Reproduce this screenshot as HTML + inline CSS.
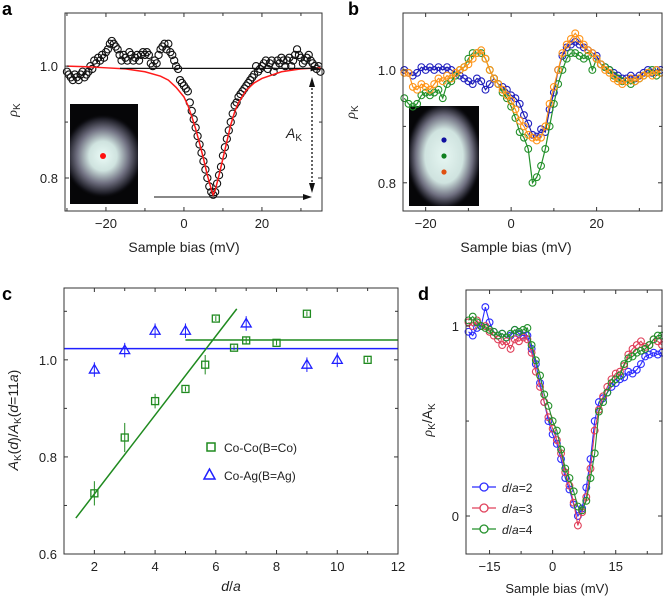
<!DOCTYPE html>
<html><head><meta charset="utf-8">
<style>
body{margin:0;background:#fff;}
svg{display:block;font-family:"Liberation Sans",Arial,sans-serif;}
</style></head>
<body>
<svg id="fig" width="663" height="597" viewBox="0 0 663 597" xmlns="http://www.w3.org/2000/svg">
<defs>
<radialGradient id="glow" cx="50%" cy="50%" r="50%">
<stop offset="0" stop-color="#eafaf6"/><stop offset="0.35" stop-color="#cfe3df"/><stop offset="0.65" stop-color="#6f6f80"/><stop offset="0.9" stop-color="#1a1a22"/><stop offset="1" stop-color="#060608" stop-opacity="0"/>
</radialGradient>
<radialGradient id="glow2" cx="50%" cy="50%" r="50%">
<stop offset="0" stop-color="#e6f6f2"/><stop offset="0.5" stop-color="#cfe3df"/><stop offset="0.75" stop-color="#6f6f80"/><stop offset="0.92" stop-color="#1a1a22"/><stop offset="1" stop-color="#060608" stop-opacity="0"/>
</radialGradient>
<clipPath id="clipA"><rect x="70" y="104" width="68" height="100"/></clipPath>
<clipPath id="clipB"><rect x="409" y="106" width="70" height="100"/></clipPath>
</defs>
<text x="2" y="15" font-size="18" font-weight="bold">a</text>
<text x="348" y="15" font-size="18" font-weight="bold">b</text>
<text x="2" y="300" font-size="18" font-weight="bold">c</text>
<text x="418" y="300" font-size="18" font-weight="bold">d</text>
</svg>
<script>
// ---------- Panel a data ----------
const biasStartA = -30, biasStepA = 0.5;
const rhoA = [0.99,0.985,0.98,0.975,0.985,0.98,0.975,0.985,0.99,0.98,0.985,0.99,1.0,0.995,1.01,1.005,1.015,1.01,1.02,1.015,1.025,1.03,1.04,1.045,1.04,1.035,1.03,1.02,1.01,1.02,1.015,1.01,1.025,1.02,1.01,1.015,1.02,1.01,1.02,1.025,1.02,1.025,1.02,1.005,1.0,1.01,1.005,1.02,1.03,1.035,1.04,1.03,1.04,1.025,1.02,1.01,1.0,0.995,0.975,0.97,0.965,0.96,0.955,0.935,0.92,0.905,0.89,0.875,0.86,0.845,0.83,0.815,0.8,0.785,0.775,0.77,0.775,0.79,0.805,0.82,0.84,0.855,0.87,0.885,0.9,0.915,0.93,0.935,0.945,0.95,0.955,0.96,0.965,0.97,0.975,0.98,0.985,1.0,0.99,0.995,1.0,1.005,1.01,0.995,1.005,1.01,0.99,1.0,1.01,1.005,1.015,1.01,1.0,1.01,1.015,1.0,1.01,1.02,1.03,1.02,1.015,1.005,1.01,1.015,1.02,1.01,1.005,1.0,0.995,1.0,0.99];
const fitX = [-30,-25,-20,-15,-10,-6,-4,-2,0,1,2,3,4,5,6,7,7.5,8,9,10,11,12,13,14,16,18,20,25,30,35];
const fitY = [1.0,0.999,0.997,0.995,0.99,0.982,0.975,0.962,0.945,0.93,0.91,0.888,0.862,0.835,0.805,0.78,0.77,0.778,0.805,0.835,0.865,0.895,0.918,0.935,0.957,0.97,0.978,0.99,0.995,0.997];
const xTicksA = [-20,0,20], yTicksA = [0.8,1.0], yTickLabelsA = ["0.8","1.0"];

// ---------- Panel b data ----------
const biasStartB = -25, biasStepB = 1;
const rhoBlue = [1.0,0.995,0.99,0.995,1.005,1.0,1.005,1.0,1.005,1.0,1.005,1.0,0.995,0.99,0.985,0.98,0.975,0.985,0.98,0.965,0.975,0.985,0.975,0.97,0.965,0.955,0.95,0.94,0.92,0.905,0.885,0.882,0.895,0.89,0.93,0.96,1.0,1.025,1.04,1.045,1.05,1.045,1.04,1.035,1.03,1.025,1.01,1.005,1.0,0.995,0.99,0.985,0.985,0.99,0.985,0.99,0.995,1.0,0.995,1.0,1.0];
const rhoGreen = [0.95,0.94,0.935,0.94,0.955,0.96,0.955,0.96,0.965,0.95,0.975,0.98,0.99,1.0,1.005,1.02,1.03,1.03,1.03,1.02,1.0,0.985,0.975,0.96,0.95,0.935,0.915,0.89,0.88,0.86,0.8,0.81,0.83,0.86,0.9,0.94,0.975,1.0,1.02,1.03,1.03,1.025,1.02,1.025,1.0,1.02,1.01,1.005,1.0,0.99,0.985,0.98,0.98,0.975,0.98,0.985,0.99,0.995,1.0,0.99,0.995];
const rhoOrange = [0.995,0.995,0.97,0.965,0.975,0.97,0.965,0.975,0.985,0.98,0.99,0.985,0.995,1.0,1.005,1.01,1.02,1.03,1.035,1.02,1.0,0.985,0.975,0.965,0.955,0.945,0.93,0.91,0.9,0.885,0.88,0.875,0.88,0.9,0.94,0.97,1.0,1.03,1.045,1.055,1.065,1.055,1.045,1.035,1.03,1.02,1.01,1.0,0.995,0.985,0.98,0.975,0.98,0.985,0.98,0.985,0.99,0.995,0.99,1.0,0.995];
const xTicksB = [-20,0,20], yTicksB = [0.8,1.0], yTickLabelsB = ["0.8","1.0"];

// ---------- Panel c data ----------
const coX = [2,3,4,5,5.65,6,6.6,7,8,9,11];
const coY = [0.725,0.84,0.915,0.94,0.99,1.085,1.025,1.04,1.035,1.095,1.0];
const coErr = [0.025,0.03,0.015,0.005,0.02,0.005,0.005,0.008,0.005,0.005,0.005];
const agX = [2,3,4,5,7,9,10];
const agY = [0.98,1.02,1.06,1.06,1.075,0.99,1.0];
const agErr = [0.015,0.015,0.015,0.015,0.015,0.015,0.015];
const coFitX = [1.39,6.69], coFitY = [0.674,1.105];
const coFlatX = [5,12], coFlatY = [1.041,1.041];
const agFlatX = [1,12], agFlatY = [1.023,1.023];
const xTicksC = [2,4,6,8,10,12], yTicksC = [0.6,0.8,1.0], yTickLabelsC = ["0.6","0.8","1.0"];

// ---------- Panel d data ----------
const biasStartD = -20, biasStepD = 1;
const normBlue = [0.97,0.95,0.99,1.0,1.1,1.02,0.97,0.95,0.96,0.94,0.95,0.98,0.96,0.95,0.95,0.88,0.8,0.7,0.6,0.5,0.43,0.38,0.3,0.2,0.14,0.06,0.0,0.04,0.15,0.3,0.5,0.6,0.62,0.65,0.68,0.7,0.72,0.73,0.76,0.75,0.77,0.8,0.84,0.85,0.86,0.85,0.86];
const normRed = [1.02,1.0,1.03,1.0,1.0,0.97,0.95,0.93,0.9,0.92,0.88,0.93,0.92,0.94,0.93,0.86,0.76,0.68,0.6,0.52,0.46,0.4,0.33,0.23,0.16,0.07,-0.05,0.02,0.1,0.25,0.45,0.56,0.63,0.68,0.72,0.75,0.76,0.79,0.85,0.88,0.9,0.92,0.89,0.9,0.93,0.92,0.9];
const normGreen = [1.03,1.05,1.02,1.0,0.99,0.98,0.97,0.95,0.96,0.94,0.96,0.98,0.97,0.98,0.99,0.9,0.82,0.74,0.64,0.58,0.5,0.45,0.35,0.25,0.2,0.13,0.05,0.03,0.08,0.2,0.33,0.55,0.6,0.65,0.7,0.72,0.74,0.8,0.83,0.84,0.86,0.87,0.88,0.9,0.93,0.95,0.95];
const xTicksD = [-15,0,15], yTicksD = [0,1], yTickLabelsD = ["0","1"];

const NS = "http://www.w3.org/2000/svg";
const svg = document.getElementById("fig");
function mk(tag, attrs, parent){ const e=document.createElementNS(NS,tag); for(const k in attrs) e.setAttribute(k,attrs[k]); (parent||svg).appendChild(e); return e; }
function scale(d0,d1,r0,r1){ return v => r0 + (v-d0)/(d1-d0)*(r1-r0); }

function frame(name, L,T,R,B, sx, sy, xt, yt, ytl, minorX, minorY){
  const g = mk("g",{});
  
  
  const r = mk("rect",{x:L,y:T,width:R-L,height:B-T,fill:"none",stroke:"#333","stroke-width":1},g);
  
  
  const all = xt.map(v=>[v,4]).concat(minorX.map(v=>[v,3]));
  all.forEach(([v,len])=>{
    const x=sx(v);
    mk("line",{x1:x,y1:B,x2:x,y2:B-len,stroke:"#333"},g);
    mk("line",{x1:x,y1:T,x2:x,y2:T+len,stroke:"#333"},g);
  });
  xt.forEach(v=>{
    const t = mk("text",{x:sx(v),y:B+17,"font-size":13,"text-anchor":"middle",fill:"#222"},g);
    
    
    t.textContent = v<0 ? "\u2212"+(-v) : String(v);
  });
  const ally = yt.map(v=>[v,4]).concat(minorY.map(v=>[v,3]));
  ally.forEach(([v,len])=>{
    const y=sy(v);
    mk("line",{x1:L,y1:y,x2:L+len,y2:y,stroke:"#333"},g);
    mk("line",{x1:R,y1:y,x2:R-len,y2:y,stroke:"#333"},g);
  });
  yt.forEach((v,i)=>{
    const t = mk("text",{x:L-7,y:sy(v)+5,"font-size":13,"text-anchor":"end",fill:"#222"},g);
    
    
    t.textContent = ytl[i];
  });
}
function polyline(xs,ys,sx,sy,color,w,name){
  const p = mk("polyline",{points:xs.map((x,i)=>sx(x)+","+sy(ys[i])).join(" "),fill:"none",stroke:color,"stroke-width":w});
  
  
}
function circles(xs,ys,sx,sy,color,r,name){
  const g = mk("g",{});
  
  
  xs.forEach((x,i)=>{
    const c = mk("circle",{cx:sx(x),cy:sy(ys[i]),r:r,fill:"none",stroke:color,"stroke-width":1.1},g);
    
    
  });
}
function label(x,y,html,size,name,rot){
  const t = mk("text",{x:x,y:y,"font-size":size,"text-anchor":"middle",fill:"#222"});
  if(rot) t.setAttribute("transform","rotate(-90 "+x+" "+y+")");
  
  
  t.innerHTML = html;
  return t;
}
const rhoK = '<tspan font-style="italic" font-family="Liberation Serif">ρ</tspan><tspan font-size="10" dy="3">K</tspan>';

// ===== Panel a =====
(function(){
  const L=65,T=13,R=322,B=211;
  const sx=scale(-30.5,35.4,L,R), sy=scale(0.741,1.095,B,T);
  const bx = rhoA.map((_,i)=>biasStartA+biasStepA*i);
  const ins = mk("g",{"clip-path":"url(#clipA)"});  
  mk("rect",{x:70,y:104,width:68,height:100,fill:"#060608"},ins);
  mk("ellipse",{cx:103,cy:156,rx:40,ry:42,fill:"url(#glow)"},ins);
  mk("circle",{cx:103,cy:156,r:3,fill:"#ff1010"},ins);
  circles(bx,rhoA,sx,sy,"#111",3.6,"data-a");
  polyline(fitX,fitY,sx,sy,"#ff1a1a",1.5,"fit-a");
  frame("panel-a",L,T,R,B,sx,sy,xTicksA,yTicksA,yTickLabelsA,[-30,-10,10,30],[0.9]);
  mk("line",{x1:sx(-16.4),y1:sy(0.996),x2:sx(33.5),y2:sy(0.996),stroke:"#111","stroke-width":1.3});
  mk("polygon",{points:`${sx(33.5)+5},${sy(0.996)} ${sx(33.5)-4},${sy(0.996)-3} ${sx(33.5)-4},${sy(0.996)+3}`,fill:"#111"});
  mk("line",{x1:154,y1:197,x2:306,y2:197,stroke:"#111","stroke-width":1.1});
  mk("polygon",{points:"312,197 303,194 303,200",fill:"#111"});
  mk("line",{x1:312,y1:84,x2:312,y2:186,stroke:"#111","stroke-width":1.3,"stroke-dasharray":"2,2"});
  mk("polygon",{points:"312,77 309,87 315,87",fill:"#111"});
  mk("polygon",{points:"312,193 309,183 315,183",fill:"#111"});
  label(294,138,'<tspan font-style="italic">A</tspan><tspan font-size="10" dy="3">K</tspan>',14,"ak-label");
  label(184,252,"Sample bias (mV)",14,"x-axis-title-a");
  label(17,110,rhoK,14,"y-axis-title-a",true);
})();

// ===== Panel b =====
(function(){
  const L=403,T=13,R=662,B=211;
  const sx=scale(-25.3,35.3,L,R), sy=scale(0.750,1.101,B,T);
  const bx = rhoBlue.map((_,i)=>biasStartB+biasStepB*i);
  const ins = mk("g",{"clip-path":"url(#clipB)"});  
  mk("rect",{x:409,y:106,width:70,height:100,fill:"#060608"},ins);
  mk("ellipse",{cx:444,cy:156,rx:38,ry:54,fill:"url(#glow2)"},ins);
  mk("circle",{cx:444,cy:140,r:2.6,fill:"#1010a0"},ins);
  mk("circle",{cx:444,cy:156,r:2.6,fill:"#108020"},ins);
  mk("circle",{cx:444,cy:172,r:2.6,fill:"#e05010"},ins);
  polyline(bx,rhoBlue,sx,sy,"#2020b0",1.2,"line-b-blue");
  circles(bx,rhoBlue,sx,sy,"#2020c0",3.4,"data-b-blue");
  polyline(bx,rhoGreen,sx,sy,"#23902a",1.2,"line-b-green");
  circles(bx,rhoGreen,sx,sy,"#23902a",3.4,"data-b-green");
  polyline(bx,rhoOrange,sx,sy,"#ff9418",1.2,"line-b-orange");
  circles(bx,rhoOrange,sx,sy,"#ff9418",3.4,"data-b-orange");
  frame("panel-b",L,T,R,B,sx,sy,xTicksB,yTicksB,yTickLabelsB,[-10,10,30],[0.9]);
  label(516,252,"Sample bias (mV)",14,"x-axis-title-b");
  label(355,112,rhoK,14,"y-axis-title-b",true);
})();

// ===== Panel c =====
(function(){
  const L=64,T=288,R=398,B=554;
  const sx=scale(1,12,L,R), sy=scale(0.6,1.148,B,T);
  polyline(agFlatX,agFlatY,sx,sy,"#1f1fff",1.5,"fit-co-ag");
  polyline(coFlatX,coFlatY,sx,sy,"#1f8a1f",1.5,"fit-co-co-flat");
  polyline(coFitX,coFitY,sx,sy,"#1f8a1f",1.5,"fit-co-co-slope");
  const gs = mk("g",{});  
  coX.forEach((x,i)=>{
    const cx=sx(x), cy=sy(coY[i]);
    mk("line",{x1:cx,y1:sy(coY[i]+coErr[i]),x2:cx,y2:sy(coY[i]-coErr[i]),stroke:"#1f8a1f","stroke-width":1},gs);
    const r=mk("rect",{x:cx-3.5,y:cy-3.5,width:7,height:7,fill:"none",stroke:"#1f8a1f","stroke-width":1.3},gs);
    
    
  });
  const gt = mk("g",{});  
  agX.forEach((x,i)=>{
    const cx=sx(x), cy=sy(agY[i]);
    mk("line",{x1:cx,y1:sy(agY[i]+agErr[i]),x2:cx,y2:sy(agY[i]-agErr[i]),stroke:"#1f1fff","stroke-width":1},gt);
    const p=mk("polygon",{points:`${cx},${cy-5} ${cx-5},${cy+3.5} ${cx+5},${cy+3.5}`,fill:"none",stroke:"#1f1fff","stroke-width":1.3},gt);
    
    
  });
  frame("panel-c",L,T,R,B,sx,sy,xTicksC,yTicksC,yTickLabelsC,[3,5,7,9,11],[0.7,0.9,1.1]);
  const lg = mk("g",{});  
  mk("rect",{x:207,y:443,width:8,height:8,fill:"none",stroke:"#1f8a1f","stroke-width":1.5},lg);
  mk("polygon",{points:"209.5,469 204,479 215,479",fill:"none",stroke:"#1f1fff","stroke-width":1.5},lg);
  const t1=mk("text",{x:224,y:452,"font-size":12,fill:"#222"},lg); t1.textContent="Co-Co(B=Co)";
   
  const t2=mk("text",{x:224,y:480,"font-size":12,fill:"#222"},lg); t2.textContent="Co-Ag(B=Ag)";
   
  label(231,591,'<tspan font-style="italic">d</tspan>/<tspan font-style="italic">a</tspan>',14,"x-axis-title-c");
  label(18,420,'<tspan font-style="italic">A</tspan><tspan font-size="10" dy="3">K</tspan><tspan dy="-3">(</tspan><tspan font-style="italic">d</tspan>)/<tspan font-style="italic">A</tspan><tspan font-size="10" dy="3">K</tspan><tspan dy="-3">(</tspan><tspan font-style="italic">d</tspan>=11<tspan font-style="italic">a</tspan>)',14,"y-axis-title-c",true);
})();

// ===== Panel d =====
(function(){
  const L=466,T=290,R=662,B=554;
  const sx=scale(-20.6,26,L,R), sy=scale(-0.2,1.19,B,T);
  const bx = normBlue.map((_,i)=>biasStartD+biasStepD*i);
  polyline(bx,normBlue,sx,sy,"#2b2bff",1.1,"line-d-2");
  circles(bx,normBlue,sx,sy,"#2b2bff",3.4,"data-d-2");
  polyline(bx,normRed,sx,sy,"#e0405a",1.1,"line-d-3");
  circles(bx,normRed,sx,sy,"#e0405a",3.4,"data-d-3");
  polyline(bx,normGreen,sx,sy,"#23902a",1.1,"line-d-4");
  circles(bx,normGreen,sx,sy,"#23902a",3.4,"data-d-4");
  frame("panel-d",L,T,R,B,sx,sy,xTicksD,yTicksD,yTickLabelsD,[-7.5,7.5,22.5],[0.5]);
  const cols=["#2b2bff","#e0405a","#23902a"], labs=["2","3","4"];
  labs.forEach((l,i)=>{
    const y=487+i*21;
    const g=mk("g",{});  
    mk("line",{x1:472,y1:y,x2:496,y2:y,stroke:cols[i],"stroke-width":1.3},g);
    mk("circle",{cx:484,cy:y,r:4,fill:"#fff",stroke:cols[i],"stroke-width":1.3},g);
    const t=mk("text",{x:502,y:y+5,"font-size":12,fill:"#222"},g);
    t.innerHTML='<tspan font-style="italic">d</tspan>/<tspan font-style="italic">a</tspan>='+l;
  });
  label(557,593,"Sample bias (mV)",13,"x-axis-title-d");
  label(432,420,'<tspan font-style="italic" font-family="Liberation Serif">ρ</tspan><tspan font-size="10" dy="3">K</tspan><tspan dy="-3">/A</tspan><tspan font-size="10" dy="3">K</tspan>',14,"y-axis-title-d",true);
})();
</script>
</body></html>
